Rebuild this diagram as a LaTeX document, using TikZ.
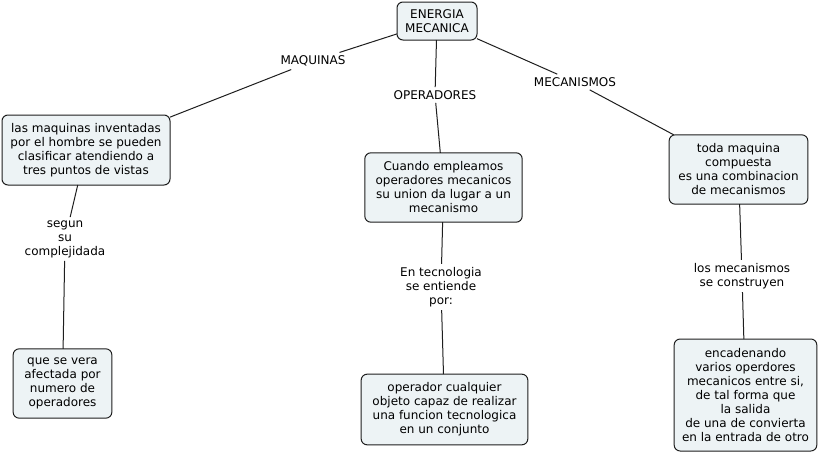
\documentclass[tikz,border=0pt]{standalone}
\usepackage{fontspec}
\setmainfont{DejaVu Sans}
\definecolor{cEDF3F5}{RGB}{237,243,245}
\definecolor{c1E1E1E}{RGB}{30,30,30}
\definecolor{cFFFFFF}{RGB}{255,255,255}

\begin{document}
\begin{tikzpicture}[y=0.75pt,x=0.75pt,yscale=-1, inner sep=0pt, outer sep=0pt,
    concept/.style={draw=c1E1E1E,fill=cEDF3F5,line width=0.75pt,
      rounded corners=4.5pt,align=center,font=\fontsize{9}{10.5}\selectfont},
    linkphrase/.style={align=center,inner sep=2.5pt,
      font=\fontsize{9}{10.5}\selectfont},
    link/.style={draw=c1E1E1E,line width=0.75pt}]
  \path[fill=cFFFFFF] (0,0) rectangle (819,454);
  \useasboundingbox (0,0) rectangle (819,454);

  % concepts
  \node[concept,minimum width=60pt,minimum height=28.5pt] (energia) at (437,21)
    {ENERGIA\\MECANICA};
  \node[concept,minimum width=126pt,minimum height=52.5pt] (maqbox) at (86,150)
    {las maquinas inventadas\\por el hombre se pueden\\clasificar atendiendo a\\tres puntos de vistas};
  \node[concept,minimum width=118pt,minimum height=52pt] (opbox) at (443.5,187.5)
    {Cuando empleamos\\operadores mecanicos\\su union da lugar a un\\mecanismo};
  \node[concept,minimum width=104pt,minimum height=52pt] (mecbox) at (738.5,169.5)
    {toda maquina\\compuesta\\es una combinacion\\de mecanismos};
  \node[concept,minimum width=74pt,minimum height=52pt] (afectada) at (62.5,383.5)
    {que se vera\\afectada por\\numero de\\operadores};
  \node[concept,minimum width=125pt,minimum height=53pt] (operador) at (444.5,409.5)
    {operador cualquier\\objeto capaz de realizar\\una funcion tecnologica\\en un conjunto};
  \node[concept,minimum width=107pt,minimum height=84pt] (encadena) at (745.5,395)
    {encadenando\\varios operdores\\mecanicos entre si,\\de tal forma que\\la salida\\de una de convierta\\en la entrada de otro};

  % linking phrases
  \node[linkphrase] (maquinas) at (313,61) {MAQUINAS};
  \node[linkphrase] (operadores) at (435,95) {OPERADORES};
  \node[linkphrase] (mecanismos) at (575,82) {MECANISMOS};
  \node[linkphrase] (segun) at (65,239) {segun\\su\\complejidada};
  \node[linkphrase] (tecnologia) at (441,287) {En tecnologia\\se entiende\\por:};
  \node[linkphrase] (construyen) at (742,276) {los mecanismos\\se construyen};

  % links
  \path[link] (energia) -- (maquinas);
  \path[link] (maquinas) -- (maqbox);
  \path[link] (energia) -- (operadores);
  \path[link] (operadores) -- (opbox);
  \path[link] (energia) -- (mecanismos);
  \path[link] (mecanismos) -- (mecbox);
  \path[link] (maqbox) -- (segun);
  \path[link] (segun) -- (afectada);
  \path[link] (opbox) -- (tecnologia);
  \path[link] (tecnologia) -- (operador);
  \path[link] (mecbox) -- (construyen);
  \path[link] (construyen) -- (encadena);
\end{tikzpicture}
\end{document}
